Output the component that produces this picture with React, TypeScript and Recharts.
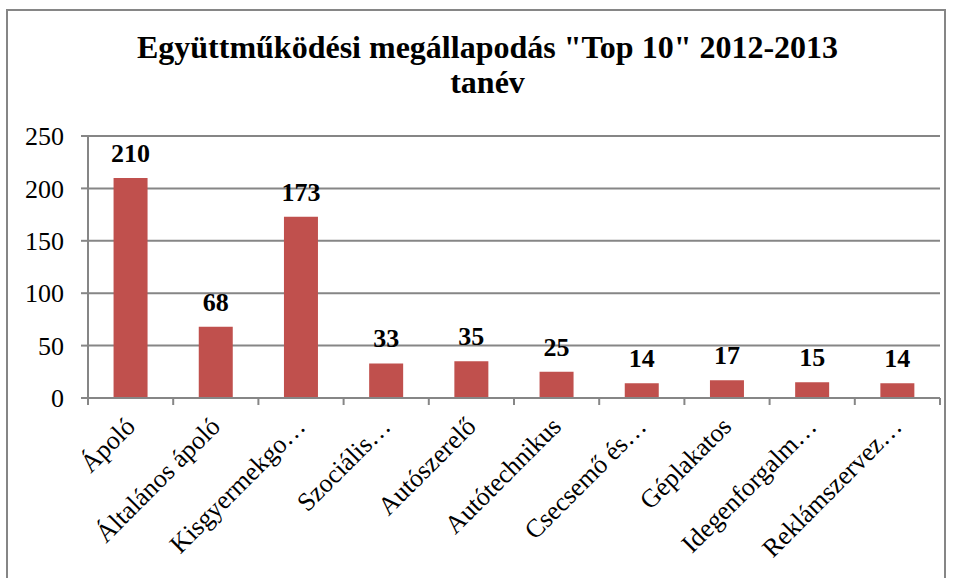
import { BarChart, Bar, XAxis, YAxis, CartesianGrid, LabelList } from 'recharts';

// Szakok és értékek
const categories = [
    'Ápoló',
    'Általános ápoló',
    'Kisgyermekgo…',
    'Szociális…',
    'Autószerelő',
    'Autótechnikus',
    'Csecsemő és…',
    'Géplakatos',
    'Idegenforgalm…',
    'Reklámszervez…',
];
const values = [210, 68, 173, 33, 35, 25, 14, 17, 15, 14];
const yTicks = [0, 50, 100, 150, 200, 250];

const data = categories.map((name, i) => ({ name, value: values[i] }));

const W = 955;
const H = 578;
const M = { top: 136, right: 15, left: 28, bottom: 10 };
const Y_W = 60;
const BAND = (W - M.left - Y_W - M.right) / categories.length;
const GRAY = '#868686';
const FONT = '"Liberation Serif", "Times New Roman", serif';

const XTick = (props: any) => {
    const { x, y, payload, index } = props;
    const left = x - BAND / 2;
    const right = x + BAND / 2;
    const tx = x + 6;
    const ty = y + 30;
    return (
        <g>
            <line x1={left} y1={y} x2={left} y2={y + 7} stroke={GRAY} strokeWidth={2} />
            {index === categories.length - 1 && (
                <line x1={right} y1={y} x2={right} y2={y + 7} stroke={GRAY} strokeWidth={2} />
            )}
            <text
                x={tx}
                y={ty}
                textAnchor="end"
                fill="#000"
                fontSize={26}
                fontFamily={FONT}
                transform={`rotate(-45, ${tx}, ${ty})`}
            >
                {payload.value}
            </text>
        </g>
    );
};

export default function App() {
    return (
        <div style={{ position: 'absolute', left: 0, top: 0, width: W, height: H, overflow: 'hidden', background: '#fff' }}>
            <div
                style={{
                    position: 'absolute',
                    left: 6,
                    top: 9,
                    width: 940,
                    height: 620,
                    border: `2px solid ${GRAY}`,
                    boxSizing: 'border-box',
                }}
            />
            <div
                style={{
                    position: 'absolute',
                    left: 0,
                    top: 30,
                    width: 975,
                    textAlign: 'center',
                    fontFamily: FONT,
                    fontWeight: 'bold',
                    fontSize: 32,
                    lineHeight: '35px',
                    color: '#000',
                }}
            >
                Együttműködési megállapodás "Top 10" 2012-2013
                <br />
                tanév
            </div>
            <div style={{ position: 'absolute', left: 0, top: 0 }}>
                <BarChart width={W} height={H} data={data} margin={M} barCategoryGap="30%">
                    <CartesianGrid vertical={false} stroke={GRAY} strokeWidth={2} />
                    <XAxis
                        dataKey="name"
                        interval={0}
                        height={H - M.top - M.bottom - 262}
                        axisLine={{ stroke: GRAY, strokeWidth: 2 }}
                        tickLine={false}
                        tickSize={0}
                        tickMargin={0}
                        tick={<XTick />}
                    />
                    <YAxis
                        width={Y_W}
                        domain={[0, 250]}
                        ticks={yTicks}
                        interval={0}
                        axisLine={{ stroke: GRAY, strokeWidth: 2 }}
                        tickLine={{ stroke: GRAY, strokeWidth: 2 }}
                        tickSize={7}
                        tickMargin={17}
                        tick={{ fill: '#000', fontSize: 26, fontFamily: FONT }}
                    />
                    <Bar dataKey="value" fill="#C0504D" isAnimationActive={false}>
                        <LabelList
                            dataKey="value"
                            position="top"
                            offset={16}
                            fill="#000"
                            fontSize={26}
                            fontWeight="bold"
                            fontFamily={FONT}
                        />
                    </Bar>
                </BarChart>
            </div>
        </div>
    );
}
